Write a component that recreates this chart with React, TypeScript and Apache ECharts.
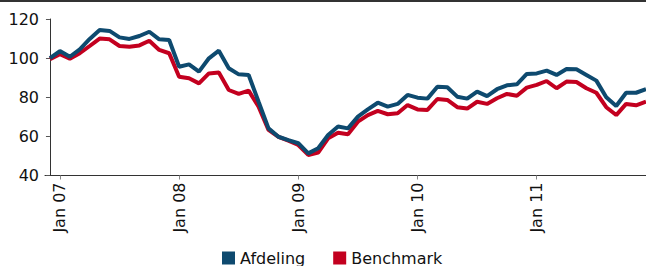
import React, { useEffect, useRef } from "react";
import * as echarts from "echarts";

// Months from Dec 2006 (index 0) to Dec 2011 (index 60)
const monthIndex: number[] = Array.from({ length: 61 }, (_, i) => i);

const afdeling: number[] = [
  100, 103.6, 100.7, 104.5, 109.8, 114.4, 113.9, 110.6, 109.8, 111.3, 113.5, 109.6, 109.3,
  95.6, 96.8, 93.1, 99.9, 103.8, 94.8, 91.7, 91.4, 77.7, 64.1, 59.8, 58.1, 56.5,
  51.3, 53.9, 60.7, 65, 64.1, 70.1, 73.8, 77.2, 75.2, 76.6, 81.2, 79.8, 79.3,
  85.4, 85.1, 80.3, 79.3, 82.9, 80.6, 84.1, 86.1, 86.6, 91.9, 92.2, 93.6, 91.4,
  94.4, 94.3, 91.4, 88.5, 80, 75.5, 82.3, 82.3, 84.1,
];

const benchmark: number[] = [
  99.4, 102, 99.7, 102.5, 106.2, 110, 109.6, 106.2, 105.8, 106.5, 108.9, 104.2, 102.5,
  90.5, 89.7, 87.1, 92.2, 92.6, 83.7, 81.7, 83.4, 75.2, 63.3, 59.8, 57.8, 55.6,
  50.5, 51.7, 59, 61.9, 61.1, 67.5, 70.9, 73, 71.3, 71.8, 76, 73.8, 73.5,
  79.1, 78.6, 74.9, 74.2, 77.7, 76.6, 79.5, 81.7, 80.8, 84.9, 86.3, 88.3, 84.6,
  88, 87.8, 84.6, 82.3, 74.9, 70.9, 76.6, 75.9, 77.7,
];

const tickPositions: number[] = [1, 13, 25, 37, 49];
const tickLabels: string[] = ["Jan 07", "Jan 08", "Jan 09", "Jan 10", "Jan 11"];
const seriesNames: string[] = ["Afdeling", "Benchmark"];

const FONT = "DejaVu Sans";

export default function App() {
  const ref = useRef<HTMLDivElement>(null);
  useEffect(() => {
    if (!ref.current) return;
    const chart = echarts.init(ref.current, undefined, { renderer: "svg" });
    chart.setOption({
      animation: false,
      textStyle: { fontFamily: FONT },
      graphic: [
        {
          type: "rect",
          shape: { x: 0, y: 0, width: 646, height: 2 },
          style: { fill: "#333" },
        },
      ],
      legend: {
        left: 222,
        top: 250,
        padding: 0,
        icon: "rect",
        itemWidth: 13,
        itemHeight: 13,
        itemGap: 28,
        textStyle: { fontSize: 16, lineHeight: 14, color: "#111", fontFamily: FONT },
        data: seriesNames,
      },
      grid: { left: 45, right: 0, top: 19, bottom: 90.5, containLabel: false },
      xAxis: {
        type: "value",
        min: -0.5,
        max: 60,
        splitLine: { show: false },
        axisLine: { lineStyle: { color: "#333", width: 1 } },
        axisTick: {
          show: true,
          length: 4,
          customValues: tickPositions,
          lineStyle: { color: "#888" },
        },
        axisLabel: {
          customValues: tickPositions,
          rotate: 90,
          margin: 7,
          fontSize: 16,
          color: "#111",
          fontFamily: FONT,
          formatter: (v: number) => {
            const k = tickPositions.indexOf(Math.round(v));
            return k >= 0 ? tickLabels[k] : "";
          },
        },
      },
      yAxis: {
        type: "value",
        min: 40,
        max: 120,
        interval: 20,
        splitLine: { show: false },
        axisLine: { show: true, lineStyle: { color: "#333", width: 1 } },
        axisTick: { show: true, length: 4, lineStyle: { color: "#555" } },
        axisLabel: { fontSize: 16, color: "#111", margin: 6, fontFamily: FONT },
      },
      series: [
        {
          name: seriesNames[0],
          type: "line",
          symbol: "none",
          color: "#0e4a6f",
          lineStyle: { width: 4, color: "#0e4a6f" },
          data: monthIndex.map((i) => [i, afdeling[i]]),
          z: 3,
        },
        {
          name: seriesNames[1],
          type: "line",
          symbol: "none",
          color: "#c3001f",
          lineStyle: { width: 4, color: "#c3001f" },
          data: monthIndex.map((i) => [i, benchmark[i]]),
          z: 2,
        },
      ],
    });
    return () => chart.dispose();
  }, []);
  return (
    <div
      ref={ref}
      style={{ position: "fixed", left: 0, top: 0, width: 646, height: 266, background: "#fff" }}
    />
  );
}
